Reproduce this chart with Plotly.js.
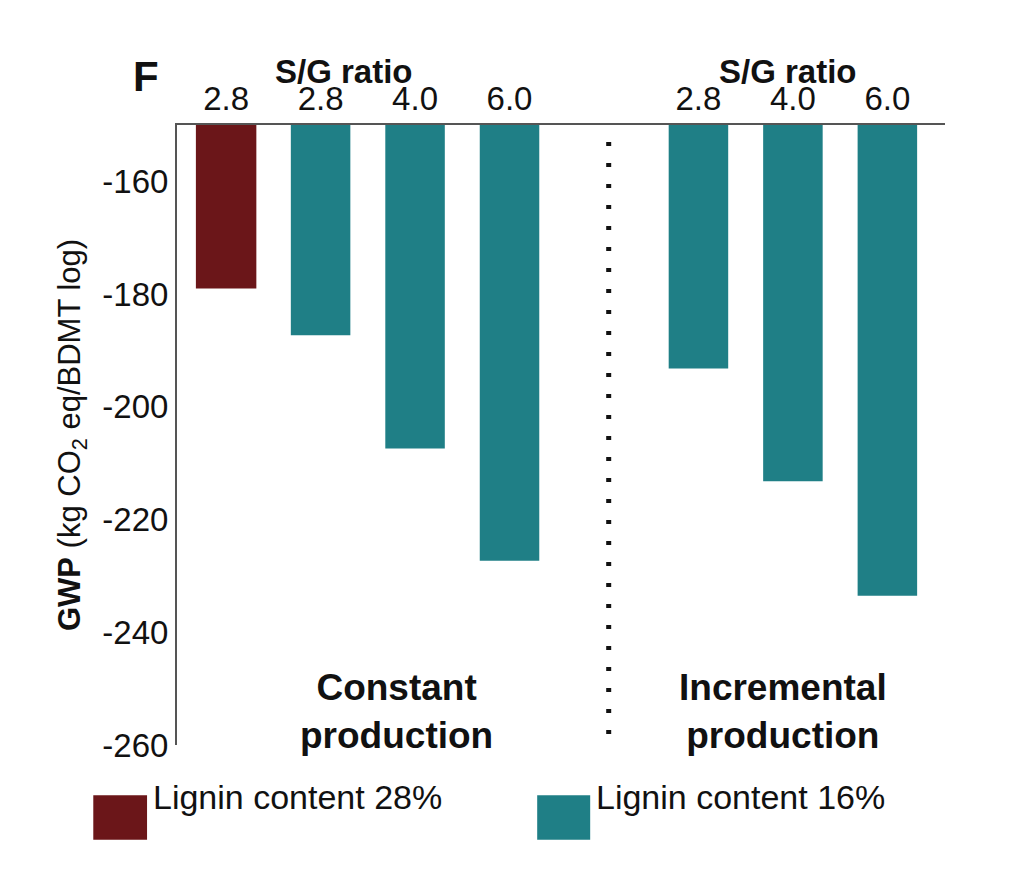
<!DOCTYPE html>
<html>
<head>
<meta charset="utf-8">
<script src="https://cdn.plot.ly/plotly-3.0.1.min.js"></script>
<style>body{margin:0;background:#fff}#chart{width:1016px;height:872px}</style>
</head>
<body>
<div id="chart"></div>
<script>
// S/G ratio labels along the top
const tickPos = [0, 1, 2, 3, 5, 6, 7];
const tickLabels = ['2.8', '2.8', '4.0', '6.0', '2.8', '4.0', '6.0'];
const yTickVals = [-160, -180, -200, -220, -240, -260];
const yTickText = ['-160', '-180', '-200', '-220', '-240', '-260'];

// GWP values (kg CO2 eq/BDMT log)
const lignin28X = [0];
const lignin28Y = [-179];
const lignin16X = [1, 2, 3, 5, 6, 7];
const lignin16Y = [-187.3, -207.4, -227.3, -193.2, -213.2, -233.5];

const red = '#6b1619';
const teal = '#1f7f86';
const font = 'Liberation Sans, Arial, sans-serif';

const data = [
    {x: lignin28X, y: lignin28Y, type: 'bar', marker: {color: red}, width: 0.64, name: 'Lignin content 28%'},
    {x: lignin16X, y: lignin16Y, type: 'bar', marker: {color: teal}, width: 0.63, name: 'Lignin content 16%'}
];

const layout = {
    width: 1016, height: 872,
    margin: {l: 177, r: 71, t: 125, b: 127},
    showlegend: false,
    paper_bgcolor: '#fff', plot_bgcolor: '#fff',
    font: {family: font, size: 33, color: '#111'},
    xaxis: {
        side: 'top', range: [-0.52, 7.61],
        tickvals: tickPos, ticktext: tickLabels, ticks: '',
        showgrid: false, zeroline: false,
        showline: true, linecolor: '#555', linewidth: 2,
        tickfont: {size: 33}
    },
    yaxis: {
        range: [-260, -150], tickvals: yTickVals, ticktext: yTickText,
        ticks: '', showgrid: false, zeroline: false,
        showline: true, linecolor: '#555', linewidth: 2,
        tickfont: {size: 33},
        title: {text: '<b>GWP</b> (kg CO<sub>2</sub> eq/BDMT log)', font: {size: 31}, standoff: 12}
    },
    shapes: [
        {type: 'line', xref: 'x', yref: 'y', x0: 4.05, x1: 4.05, y0: -153, y1: -260,
         line: {color: '#111', width: 5, dash: '4px,17px'}},
        {type: 'rect', xref: 'paper', yref: 'paper', x0: -0.109, x1: -0.039, y0: -0.081, y1: -0.153,
         fillcolor: red, line: {width: 0}},
        {type: 'rect', xref: 'paper', yref: 'paper', x0: 0.469, x1: 0.538, y0: -0.081, y1: -0.153,
         fillcolor: teal, line: {width: 0}}
    ],
    annotations: [
        {text: '<b>F</b>', xref: 'paper', yref: 'paper', x: -0.04, y: 1.12, showarrow: false, font: {size: 42}, xanchor: 'center'},
        {text: '<b>S/G ratio</b>', xref: 'x', yref: 'paper', x: 1.25, y: 1.12, showarrow: false, font: {size: 33}},
        {text: '<b>S/G ratio</b>', xref: 'x', yref: 'paper', x: 5.95, y: 1.12, showarrow: false, font: {size: 33}},
        {text: '<b>Constant<br>production</b>', xref: 'x', yref: 'y', x: 1.8, y: -254, showarrow: false, font: {size: 37}, yanchor: 'middle'},
        {text: '<b>Incremental<br>production</b>', xref: 'x', yref: 'y', x: 5.9, y: -254, showarrow: false, font: {size: 37}, yanchor: 'middle'},
        {text: 'Lignin content 28%', xref: 'paper', yref: 'paper', x: -0.034, y: -0.118, showarrow: false, xanchor: 'left', font: {size: 34}},
        {text: 'Lignin content 16%', xref: 'paper', yref: 'paper', x: 0.543, y: -0.118, showarrow: false, xanchor: 'left', font: {size: 34}}
    ]
};

Plotly.newPlot('chart', data, layout, {displayModeBar: false});
</script>
</body>
</html>
